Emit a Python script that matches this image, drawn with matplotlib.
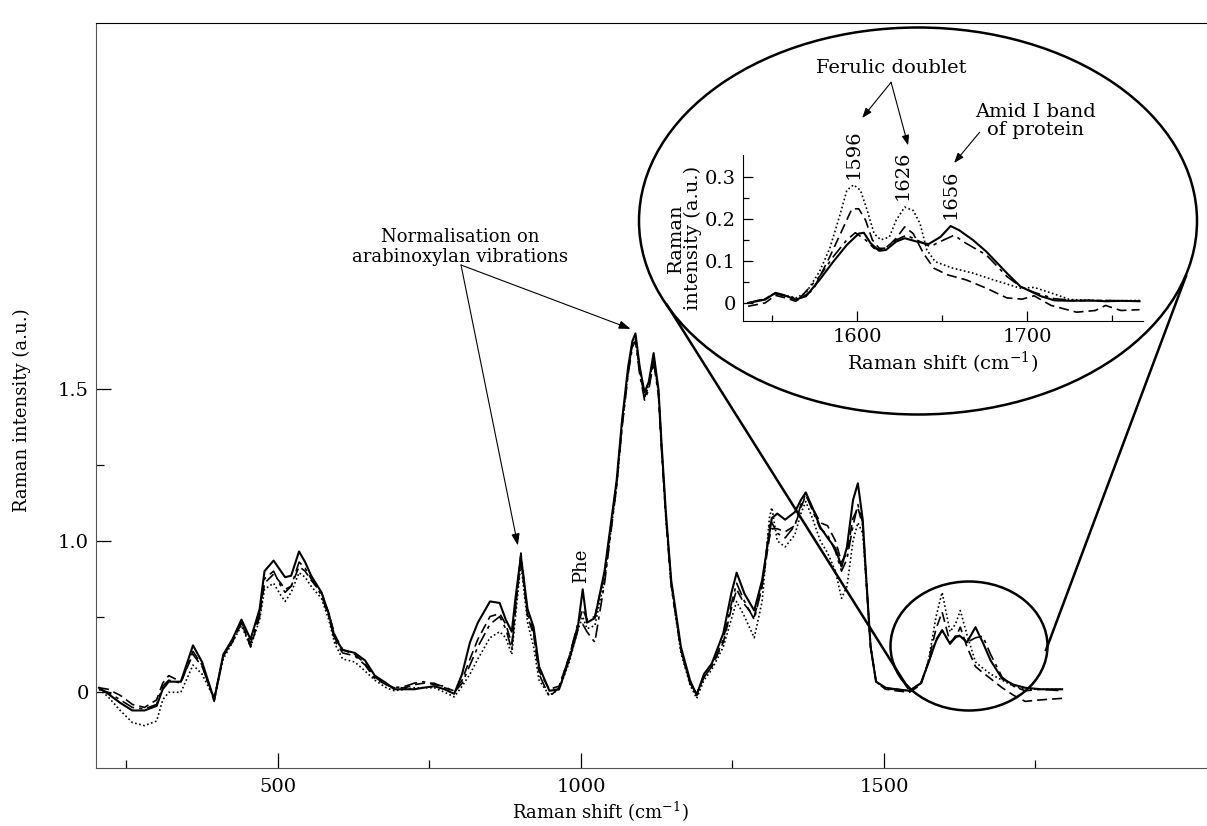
# Raman spectra of four samples, with a zoomed inset of the 1550-1770 cm-1 region
import numpy as np
import matplotlib.pyplot as plt
from matplotlib.patches import Ellipse
from matplotlib.lines import Line2D

plt.rcParams['font.family'] = ['DejaVu Serif']
plt.rcParams['mathtext.fontset'] = 'dejavuserif'

# ---------------- main spectrum data ----------------
shift = [205, 220, 240, 260, 280, 300, 310, 320, 340, 360, 375, 395, 410, 425, 440, 455,
         470, 478, 493, 505, 512, 522, 535, 545, 555, 572, 584, 594, 607, 627, 644, 660,
         679, 692, 710, 725, 740, 758, 775, 791, 804, 817, 830, 850, 866, 876, 886, 892,
         901, 912, 922, 931, 948, 964, 981, 994, 1003, 1010, 1023, 1039, 1059, 1068, 1078,
         1085, 1090, 1097, 1105, 1112, 1120, 1128, 1133, 1140, 1149, 1165, 1180, 1191, 1203,
         1216, 1235, 1248, 1257, 1270, 1286, 1299, 1311, 1315, 1324, 1337, 1353, 1363, 1371,
         1382, 1395, 1407, 1420, 1430, 1439, 1449, 1457, 1465, 1471, 1478, 1487, 1503, 1520,
         1542, 1561, 1573, 1586, 1596, 1609, 1618, 1626, 1637, 1651, 1663, 1676, 1695, 1714,
         1733, 1759, 1794]

solid = [0.03, -0.01, -0.07, -0.12, -0.12, -0.09, 0.02, 0.07, 0.07, 0.31, 0.20, -0.05, 0.25, 0.35, 0.48, 0.35,
         0.55, 0.80, 0.87, 0.80, 0.76, 0.77, 0.93, 0.86, 0.77, 0.66, 0.52, 0.36, 0.28, 0.26, 0.21, 0.11,
         0.06, 0.02, 0.02, 0.02, 0.03, 0.04, 0.02, -0.01, 0.12, 0.33, 0.46, 0.60, 0.59, 0.48, 0.40, 0.62,
         0.90, 0.55, 0.43, 0.17, 0.01, 0.02, 0.22, 0.40, 0.68, 0.46, 0.49, 0.80, 1.40, 1.80, 2.15,
         2.32, 2.37, 2.15, 1.98, 2.05, 2.24, 2.00, 1.65, 1.20, 0.74, 0.30, 0.08, -0.02, 0.12,
         0.19, 0.39, 0.65, 0.79, 0.65, 0.54, 0.74, 1.05, 1.15, 1.18, 1.14, 1.19, 1.27, 1.32,
         1.22, 1.09, 1.02, 0.95, 0.83, 0.96, 1.27, 1.38, 1.14, 0.74, 0.30, 0.07, 0.03, 0.02,
         0.01, 0.06, 0.19, 0.34, 0.41, 0.32, 0.37, 0.37, 0.33, 0.43, 0.33, 0.21, 0.09, 0.05,
         0.03, 0.02, 0.02]

dashed = [0.03, 0.02, -0.02, -0.08, -0.10, -0.05, 0.06, 0.11, 0.07, 0.25, 0.17, -0.04, 0.24, 0.33, 0.46, 0.30,
          0.50, 0.72, 0.78, 0.72, 0.68, 0.70, 0.83, 0.80, 0.74, 0.66, 0.52, 0.38, 0.28, 0.25, 0.19, 0.10,
          0.05, 0.03, 0.03, 0.05, 0.06, 0.06, 0.03, 0.01, 0.08, 0.22, 0.35, 0.50, 0.52, 0.45, 0.32, 0.55,
          0.88, 0.50, 0.38, 0.14, 0.02, 0.04, 0.24, 0.43, 0.55, 0.48, 0.50, 0.78, 1.38, 1.78, 2.12,
          2.30, 2.35, 2.12, 1.95, 2.02, 2.20, 1.98, 1.62, 1.18, 0.72, 0.28, 0.06, -0.01, 0.10,
          0.17, 0.33, 0.55, 0.68, 0.58, 0.50, 0.70, 1.02, 1.08, 1.08, 1.06, 1.10, 1.22, 1.30,
          1.22, 1.12, 1.10, 1.00, 0.86, 0.92, 1.15, 1.22, 1.10, 0.72, 0.30, 0.07, 0.02, 0.01,
          0.00, 0.05, 0.20, 0.42, 0.53, 0.33, 0.36, 0.43, 0.30, 0.17, 0.13, 0.09, 0.03, -0.02,
          -0.06, -0.05, -0.04]

dashdot = [0.02, 0.00, -0.05, -0.10, -0.11, -0.08, 0.04, 0.08, 0.06, 0.27, 0.18, -0.06, 0.24, 0.34, 0.46, 0.32,
           0.52, 0.75, 0.80, 0.70, 0.66, 0.70, 0.86, 0.82, 0.75, 0.64, 0.50, 0.34, 0.26, 0.24, 0.18, 0.09,
           0.05, 0.03, 0.04, 0.06, 0.07, 0.05, 0.04, 0.00, 0.06, 0.18, 0.30, 0.45, 0.50, 0.42, 0.28, 0.55,
           0.92, 0.52, 0.40, 0.12, -0.03, 0.03, 0.24, 0.44, 0.45, 0.40, 0.33, 0.72, 1.36, 1.75, 2.10,
           2.28, 2.32, 2.10, 1.93, 2.00, 2.18, 1.96, 1.60, 1.16, 0.70, 0.28, 0.06, -0.01, 0.10,
           0.17, 0.35, 0.58, 0.72, 0.60, 0.48, 0.70, 1.10, 1.12, 1.05, 1.02, 1.10, 1.24, 1.31,
           1.20, 1.08, 1.04, 0.93, 0.80, 0.88, 1.10, 1.24, 1.12, 0.74, 0.30, 0.07, 0.02, 0.02,
           0.01, 0.06, 0.19, 0.35, 0.41, 0.32, 0.36, 0.38, 0.33, 0.36, 0.37, 0.25, 0.10, 0.04,
           0.01, 0.02, 0.01]

dotted = [0.02, -0.03, -0.12, -0.20, -0.22, -0.19, -0.05, 0.00, 0.00, 0.18, 0.12, -0.04, 0.22, 0.33, 0.44, 0.30,
          0.48, 0.68, 0.72, 0.64, 0.60, 0.66, 0.79, 0.76, 0.70, 0.62, 0.48, 0.32, 0.22, 0.20, 0.14, 0.08,
          0.03, 0.01, 0.02, 0.03, 0.03, 0.03, 0.00, -0.03, 0.04, 0.12, 0.22, 0.36, 0.40, 0.36, 0.25, 0.50,
          0.85, 0.46, 0.30, 0.08, -0.02, 0.02, 0.20, 0.40, 0.50, 0.42, 0.44, 0.74, 1.36, 1.76, 2.12,
          2.31, 2.36, 2.14, 1.96, 2.03, 2.22, 1.99, 1.63, 1.17, 0.71, 0.26, 0.05, -0.04, 0.08,
          0.15, 0.30, 0.48, 0.60, 0.50, 0.36, 0.60, 1.15, 1.22, 1.00, 0.96, 1.04, 1.18, 1.26,
          1.15, 1.00, 0.92, 0.80, 0.62, 0.70, 1.00, 1.12, 1.05, 0.72, 0.30, 0.07, 0.02, 0.02,
          0.01, 0.06, 0.20, 0.50, 0.66, 0.40, 0.45, 0.54, 0.38, 0.20, 0.16, 0.12, 0.08, 0.04,
          0.02, 0.02, 0.02]

# y axis: equally spaced major ticks carry these labels in the original figure
main_ytick_pos = [0, 1, 2]
main_ytick_labels = ["0", "1.0", "1.5"]
main_yminor_pos = [0.5, 1.5]
main_xticks = [500, 1000, 1500]
main_xminor = [250, 750, 1250, 1750]

# ---------------- inset data (1533-1768 cm-1) ----------------
in_solid_x = [1536, 1546, 1552, 1556, 1564, 1570, 1578, 1586, 1594, 1601, 1604, 1608, 1613,
              1617, 1623, 1628, 1635, 1642, 1649, 1655, 1660, 1668, 1676, 1688, 1696, 1708,
              1716, 1726, 1736, 1746, 1756, 1766]
in_solid_y = [0.0, 0.008, 0.024, 0.02, 0.008, 0.016, 0.055, 0.098, 0.138, 0.165, 0.167, 0.142, 0.124,
              0.126, 0.146, 0.154, 0.146, 0.14, 0.157, 0.183, 0.173, 0.15, 0.122, 0.071, 0.039, 0.016,
              0.006, 0.005, 0.006, 0.004, 0.005, 0.004]

in_dotted_x = [1536, 1546, 1552, 1558, 1564, 1570, 1578, 1584, 1590, 1594, 1598, 1602, 1606, 1610,
               1614, 1619, 1623, 1628, 1633, 1637, 1641, 1646, 1656, 1668, 1680, 1696, 1704, 1716,
               1725, 1740, 1755, 1766]
in_dotted_y = [0.0, 0.01, 0.024, 0.018, 0.012, 0.024, 0.075, 0.13, 0.21, 0.268, 0.281, 0.268, 0.22, 0.165,
               0.15, 0.157, 0.197, 0.228, 0.22, 0.189, 0.126, 0.098, 0.083, 0.071, 0.055, 0.035, 0.037, 0.021,
               0.008, 0.006, 0.005, 0.006]

in_dashed_x = [1536, 1546, 1552, 1558, 1564, 1574, 1584, 1592, 1597, 1601, 1605, 1609, 1613, 1617,
               1623, 1628, 1633, 1639, 1645, 1653, 1664, 1676, 1688, 1697, 1704, 1714, 1729, 1740,
               1746, 1755, 1766]
in_dashed_y = [-0.008, 0.0, 0.018, 0.012, 0.004, 0.03, 0.11, 0.18, 0.224, 0.224, 0.197, 0.15, 0.13, 0.13,
               0.154, 0.181, 0.165, 0.118, 0.083, 0.067, 0.055, 0.035, 0.012, 0.009, 0.017, -0.006, -0.022, -0.018,
               -0.006, -0.018, -0.016]

in_dashdot_x = [1536, 1546, 1552, 1558, 1566, 1578, 1586, 1594, 1599, 1605, 1610, 1615, 1623, 1629,
                1637, 1643, 1651, 1657, 1664, 1676, 1688, 1696, 1704, 1716, 1730, 1745, 1766]
in_dashdot_y = [0.0, 0.01, 0.022, 0.016, 0.01, 0.063, 0.11, 0.15, 0.167, 0.15, 0.13, 0.126, 0.15, 0.161,
                0.146, 0.134, 0.15, 0.161, 0.142, 0.114, 0.063, 0.039, 0.025, 0.01, 0.005, 0.006, 0.004]

in_yticks = [0, 0.1, 0.2, 0.3]
in_ytick_labels = ["0", "0.1", "0.2", "0.3"]
in_yminor = [0.05, 0.15, 0.25]
in_xticks = [1600, 1700]
in_xminor = [1550, 1650, 1750]

peak_labels = ["1596", "1626", "1656"]
peak_label_x = [1598, 1627, 1655]
peak_label_y = [0.295, 0.244, 0.20]


# ---------------- figure ----------------
W, H = 1207, 826
fig = plt.figure(figsize=(W / 100, H / 100), dpi=100)


def fx(px):
    return px / W


def fy(py):
    return 1 - py / H


styles = [
    (solid, "-", 1.5),
    (dashed, (0, (6, 3)), 1.2),
    (dashdot, (0, (8, 3, 2, 3)), 1.2),
    (dotted, (0, (1, 1.5)), 1.2),
]

# main axes
ax = fig.add_axes([fx(96), fy(768), fx(1207) - fx(96), fy(23) - fy(768)])
for ydata, ls, lw in styles:
    ax.plot(shift, ydata, color="black", linestyle=ls, linewidth=lw)

ax.set_xlim(200, 2033)
ax.set_ylim(-0.5, 4.42)
ax.set_xticks(main_xticks)
ax.set_xticks(main_xminor, minor=True)
ax.set_yticks(main_ytick_pos)
ax.set_yticklabels(main_ytick_labels)
ax.set_yticks(main_yminor_pos, minor=True)
ax.tick_params(which="major", direction="in", length=11, width=0.9, labelsize=14, pad=5)
ax.tick_params(which="minor", direction="in", length=6, width=0.9)
ax.tick_params(axis="x", which="major", pad=7)
ax.spines["right"].set_visible(False)
ax.spines["left"].set_color("#555555")
ax.spines["bottom"].set_color("#555555")
ax.spines["top"].set_color("black")

# axis titles placed in figure pixels
fig.text(fx(600), fy(812), "Raman shift (cm$^{-1}$)", ha="center", va="center", fontsize=13)
fig.text(fx(22), fy(410), "Raman intensity (a.u.)", ha="center", va="center",
         rotation=90, fontsize=13)

ax.text(1000, 0.72, "Phe", rotation=90, ha="center", va="bottom", fontsize=13)

# annotation on arabinoxylan bands
fig.text(fx(460), fy(247), "Normalisation on\narabinoxylan vibrations",
         ha="center", va="center", fontsize=13, linespacing=1.15)
arrow = dict(arrowstyle="-|>,head_length=0.7,head_width=0.25", color="black",
             lw=0.8, shrinkA=0, shrinkB=0)
for tip in [(896, 0.97), (1082, 2.40)]:
    ax.annotate("", xy=tip, xycoords="data", xytext=(fx(461), fy(265)),
                textcoords="figure fraction", arrowprops=arrow)

# zoom marks: ellipse, small circle and connecting lines
fig.add_artist(Ellipse((fx(918), fy(221)), fx(558), 387 / H, transform=fig.transFigure,
                       fill=False, lw=1.8, color="black"))
fig.add_artist(Ellipse((fx(969), fy(646)), fx(157), 129 / H, transform=fig.transFigure,
                       fill=False, lw=1.8, color="black"))
fig.add_artist(Line2D([fx(667), fx(908)], [fy(305), fy(688)], transform=fig.transFigure,
                      color="black", lw=1.8))
fig.add_artist(Line2D([fx(1186), fx(1046)], [fy(276), fy(650)], transform=fig.transFigure,
                      color="black", lw=1.8))

# inset axes
axi = fig.add_axes([fx(743), fy(321), fx(1143) - fx(743), fy(155) - fy(321)])
axi.patch.set_visible(False)
axi.plot(in_solid_x, in_solid_y, color="black", lw=1.5)
axi.plot(in_dashed_x, in_dashed_y, color="black", lw=1.2, linestyle=(0, (6, 3)))
axi.plot(in_dashdot_x, in_dashdot_y, color="black", lw=1.2, linestyle=(0, (8, 3, 2, 3)))
axi.plot(in_dotted_x, in_dotted_y, color="black", lw=1.2, linestyle=(0, (1, 1.5)))
axi.set_xlim(1533, 1768)
axi.set_ylim(-0.043, 0.352)
axi.spines["right"].set_visible(False)
axi.spines["top"].set_visible(False)
axi.set_xticks(in_xticks)
axi.set_xticks(in_xminor, minor=True)
axi.set_yticks(in_yticks)
axi.set_yticklabels(in_ytick_labels)
axi.set_yticks(in_yminor, minor=True)
axi.tick_params(which="major", direction="in", length=7, width=0.9, labelsize=14, pad=5)
axi.tick_params(which="minor", direction="in", length=4, width=0.9)
axi.set_xlabel("Raman shift (cm$^{-1}$)", fontsize=14, labelpad=3)
axi.set_ylabel("Raman\nintensity (a.u.)", fontsize=14, linespacing=0.95, labelpad=2)

for lab, px_, py_ in zip(peak_labels, peak_label_x, peak_label_y):
    axi.text(px_, py_, lab, rotation=90, ha="center", va="bottom", fontsize=14)

axi.text(1620, 0.558, "Ferulic doublet", ha="center", va="center", fontsize=14, clip_on=False)
axi.text(1705, 0.432, "Amid I band\nof protein", ha="center", va="center", fontsize=14,
         linespacing=1.0, clip_on=False)
small_arrow = dict(arrowstyle="-|>,head_length=0.6,head_width=0.22", color="black",
                   lw=0.8, shrinkA=0, shrinkB=0)
axi.annotate("", xy=(1603, 0.44), xytext=(1620, 0.525), arrowprops=small_arrow,
             annotation_clip=False)
axi.annotate("", xy=(1630, 0.375), xytext=(1620, 0.525), arrowprops=small_arrow,
             annotation_clip=False)
axi.annotate("", xy=(1657, 0.333), xytext=(1672, 0.406), arrowprops=small_arrow,
             annotation_clip=False)

fig.savefig("out.png", dpi=100)
